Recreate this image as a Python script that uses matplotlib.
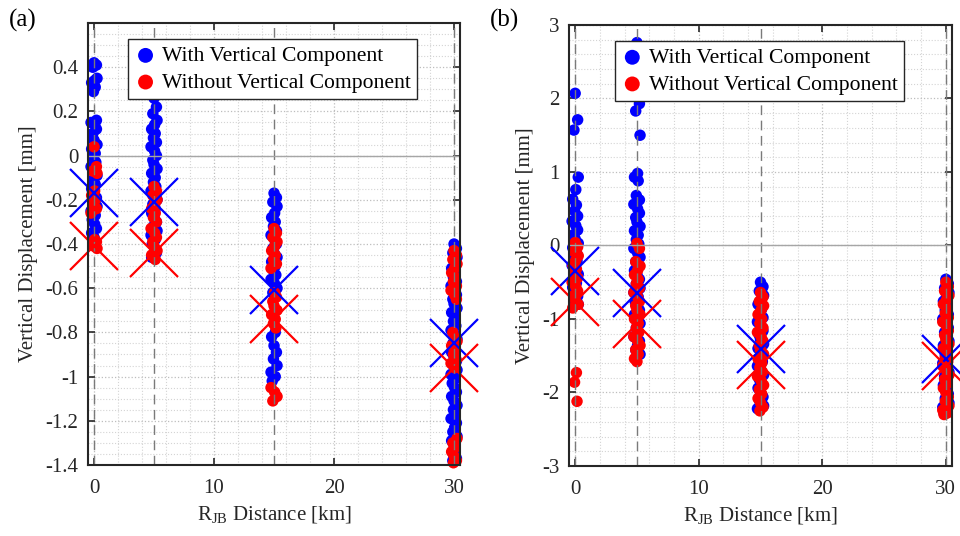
import matplotlib
matplotlib.use('Agg')
import matplotlib.pyplot as plt
import numpy as np

plt.rcParams['font.family'] = ['Liberation Serif', 'DejaVu Serif']
plt.rcParams['mathtext.fontset'] = 'custom'
plt.rcParams['mathtext.rm'] = 'Liberation Serif'
plt.rcParams['font.size'] = 15

distances = [0, 5, 15, 30]

# small spread of the actual R_JB values around each nominal distance [km]
rjb_offsets = [0.0, 0.2, -0.1, 0.25, 0.05, -0.2, 0.1, -0.05, 0.2, -0.25,
               0.05, 0.2, -0.1, 0.0, 0.25, -0.2, 0.1, -0.05, 0.15, -0.25,
               0.05, 0.25, -0.1, 0.1, -0.2, 0.0, 0.2, -0.05, 0.25, -0.25,
               0.1, -0.15, 0.05, 0.2, -0.2, 0.0, 0.25, -0.05, 0.1, -0.25,
               0.2, 0.05, -0.1, 0.25, -0.2, 0.0, 0.1, -0.05, 0.2, -0.1]

# panel (a) vertical displacement values [mm]
a_blue = {
    0: [0.42, 0.41, 0.40, 0.35, 0.34, 0.33, 0.31, 0.29, 0.16, 0.15, 0.14, 0.12, 0.10, 0.07,
        0.05, 0.03, 0.01, -0.01, -0.03, -0.05, -0.07, -0.09, -0.11, -0.13, -0.15, -0.17,
        -0.19, -0.21, -0.23, -0.25, -0.27, -0.29, -0.31, -0.33, -0.35, -0.37],
    5: [0.26, 0.22, 0.19, 0.16, 0.14, 0.12, 0.10, 0.08, 0.06, 0.04, 0.02, 0.00, -0.02, -0.04,
        -0.06, -0.08, -0.10, -0.12, -0.14, -0.16, -0.18, -0.20, -0.22, -0.24, -0.26, -0.28,
        -0.30, -0.32, -0.34, -0.36, -0.38, -0.40, -0.42, -0.44, -0.46],
    15: [-0.17, -0.19, -0.21, -0.23, -0.26, -0.28, -0.30, -0.32, -0.34, -0.36, -0.38, -0.40,
         -0.42, -0.44, -0.46, -0.48, -0.50, -0.52, -0.54, -0.56, -0.58, -0.60, -0.62, -0.80,
         -0.82, -0.86, -0.89, -0.92, -0.95, -0.98, -1.00, -1.02],
    30: [-0.40, -0.42, -0.44, -0.46, -0.49, -0.51, -0.53, -0.55, -0.57, -0.59, -0.61, -0.63,
         -0.65, -0.67, -0.69, -0.71, -0.73, -0.75, -0.77, -0.79, -0.81, -0.83, -0.85, -0.87,
         -0.89, -0.91, -0.93, -0.95, -0.97, -0.99, -1.01, -1.03, -1.05, -1.07, -1.09, -1.11,
         -1.13, -1.15, -1.17, -1.19, -1.21, -1.23, -1.25, -1.27, -1.29, -1.31, -1.33, -1.35,
         -1.37, -1.38],
}
a_red = {
    0: [0.04, -0.05, -0.07, -0.08, -0.16, -0.18, -0.20, -0.22, -0.24, -0.26, -0.38, -0.39,
        -0.40, -0.41, -0.42],
    5: [-0.14, -0.16, -0.18, -0.20, -0.22, -0.24, -0.26, -0.28, -0.30, -0.33, -0.35, -0.37,
        -0.39, -0.41, -0.43, -0.45, -0.47],
    15: [-0.33, -0.35, -0.37, -0.39, -0.41, -0.43, -0.45, -0.47, -0.49, -0.51, -0.62, -0.64,
         -0.66, -0.68, -0.70, -0.72, -0.74, -0.76, -0.78, -1.05, -1.07, -1.09, -1.11],
    30: [-0.43, -0.45, -0.47, -0.49, -0.51, -0.53, -0.55, -0.57, -0.59, -0.61, -0.63, -0.65,
         -0.80, -0.82, -0.84, -0.86, -0.88, -0.90, -0.92, -0.94, -0.96, -1.28, -1.30, -1.32,
         -1.34, -1.36, -1.38, -1.39],
}
a_blue_mean = [-0.17, -0.21, -0.61, -0.85]
a_red_mean = [-0.41, -0.44, -0.74, -0.96]

# panel (b)
b_blue = {
    0: [2.07, 1.71, 1.57, 0.93, 0.76, 0.63, 0.55, 0.47, 0.40, 0.33, 0.27, 0.21, 0.15, 0.09,
        0.03, -0.03, -0.09, -0.15, -0.21, -0.27, -0.33, -0.39, -0.45, -0.51, -0.57, -0.63,
        -0.69, -0.75, -0.80],
    5: [2.76, 1.93, 1.83, 1.50, 0.98, 0.93, 0.88, 0.68, 0.62, 0.56, 0.50, 0.44, 0.38, 0.32,
        0.26, 0.20, 0.14, 0.08, 0.02, -0.04, -0.10, -0.16, -0.22, -0.28, -0.34, -0.40, -0.46,
        -0.52, -0.58, -0.64, -0.70, -0.76, -0.82, -0.88, -0.94, -1.00, -1.06, -1.12, -1.18,
        -1.24, -1.30, -1.36, -1.42, -1.48],
    15: [-0.50, -0.56, -0.62, -0.68, -0.74, -0.80, -0.86, -0.92, -0.98, -1.04, -1.10, -1.16,
         -1.22, -1.28, -1.34, -1.40, -1.46, -1.52, -1.58, -1.64, -1.70, -1.76, -1.82, -1.88,
         -1.94, -2.00, -2.06, -2.12, -2.18, -2.22],
    30: [-0.46, -0.52, -0.58, -0.64, -0.70, -0.76, -0.82, -0.88, -0.94, -1.00, -1.06, -1.12,
         -1.18, -1.24, -1.30, -1.36, -1.42, -1.48, -1.54, -1.60, -1.66, -1.72, -1.78, -1.84,
         -1.90, -1.96, -2.02, -2.08, -2.14, -2.20, -2.25, -2.28],
}
b_red = {
    0: [0.04, -0.02, -0.08, -0.14, -0.20, -0.26, -0.32, -0.38, -0.44, -0.50, -0.56, -0.62,
        -0.68, -0.74, -0.80, -0.85, -1.73, -1.86, -2.12],
    5: [0.03, -0.04, -0.22, -0.28, -0.34, -0.40, -0.46, -0.52, -0.58, -0.64, -0.70, -0.76,
        -0.82, -0.88, -0.94, -1.00, -1.06, -1.12, -1.18, -1.24, -1.30, -1.36, -1.42, -1.48,
        -1.54, -1.58],
    15: [-0.64, -0.70, -0.76, -0.82, -0.88, -0.94, -1.00, -1.06, -1.12, -1.18, -1.24, -1.30,
         -1.36, -1.42, -1.48, -1.54, -1.60, -1.66, -1.72, -1.78, -1.84, -1.90, -1.96, -2.02,
         -2.08, -2.14, -2.20, -2.25],
    30: [-0.50, -0.56, -0.62, -0.68, -0.74, -0.80, -0.86, -0.92, -0.98, -1.04, -1.10, -1.16,
         -1.22, -1.28, -1.34, -1.40, -1.46, -1.52, -1.58, -1.64, -1.70, -1.76, -1.82, -1.88,
         -1.94, -2.00, -2.06, -2.12, -2.18, -2.24, -2.28, -2.30],
}
b_blue_mean = [-0.35, -0.65, -1.41, -1.54]
b_red_mean = [-0.77, -1.07, -1.62, -1.64]

BLUE = (0, 0, 1)
RED = (1, 0, 0)
DARK = '#262626'


def column_x(d, vals):
    return [d + o for o in rjb_offsets[:len(vals)]]


def draw_panel(ax, blue, red, blue_mean, red_mean, ylim, yticks, yminor, tag, leg_x):
    for d in distances:
        ax.scatter(column_x(d, blue[d]), blue[d], s=68, color=BLUE, edgecolors='none',
                   zorder=2, clip_on=False,
                   label='With Vertical Component' if d == 0 else None)
    for d in distances:
        ax.scatter(column_x(d, red[d]), red[d], s=68, color=RED, edgecolors='none',
                   zorder=3, clip_on=False,
                   label='Without Vertical Component' if d == 0 else None)
    for d in distances:
        ax.axvline(d, color='#7a7a7a', ls=(0, (7, 4)), lw=1.0, zorder=4)
    ax.axhline(0, color='#a6a6a6', lw=1.0, zorder=4)
    ax.plot(distances, blue_mean, 'x', color=BLUE, ms=34, mew=1.6, zorder=5, clip_on=False)
    ax.plot(distances, red_mean, 'x', color=RED, ms=34, mew=1.6, zorder=5, clip_on=False)

    ax.set_xlim(-0.5, 30.5)
    ax.set_ylim(*ylim)
    ax.set_xticks([0, 10, 20, 30])
    ax.set_yticks(yticks)
    ax.set_xticks(np.arange(0, 31, 2), minor=True)
    ax.set_yticks(yminor, minor=True)
    ax.set_yticklabels([('%g' % (round(t, 2) + 0.0)) for t in yticks])
    ax.grid(True, which='major', color='#bdbdbd', ls=':', lw=0.9)
    ax.grid(True, which='minor', color='#d4d4d4', ls=':', lw=0.8)
    ax.set_axisbelow(True)
    ax.tick_params(which='major', direction='in', top=True, right=True, length=5, width=1.2,
                   color=DARK, labelcolor=DARK)
    ax.tick_params(axis='y', which='major', pad=7)
    ax.tick_params(axis='x', which='major', pad=10)
    ax.tick_params(which='minor', length=0)
    for s in ax.spines.values():
        s.set_linewidth(1.5)
        s.set_color(DARK)
        s.set_zorder(6)
    ax.set_xlabel(r'R$_{\rm JB}$ Distance [km]', color=DARK, labelpad=5)
    ax.set_ylabel('Vertical Displacement [mm]', color=DARK, labelpad=5)
    leg = ax.legend(loc='upper left', bbox_to_anchor=(leg_x, 0.963), borderaxespad=0,
                    frameon=True, fancybox=False, markerscale=1.3, handletextpad=0.25,
                    borderpad=0.3, labelspacing=0.3, handlelength=1.0, fontsize=15.6,
                    framealpha=1)
    leg.get_frame().set_edgecolor(DARK)
    leg.get_frame().set_linewidth(1.0)
    leg.set_zorder(7)
    ax.figure.text(ax.get_position().x0 - 0.082, 0.962, tag, fontsize=18, ha='left',
                   va='center')


fig = plt.figure(figsize=(9.6, 5.36), dpi=100)
ax1 = fig.add_axes([0.0917, 0.1325, 0.3875, 0.8245])
ax2 = fig.add_axes([0.5927, 0.1306, 0.399, 0.8228])

draw_panel(ax1, a_blue, a_red, a_blue_mean, a_red_mean, (-1.4, 0.6),
           np.arange(-1.4, 0.41, 0.2), np.arange(-1.4, 0.61, 0.05), '(a)', 0.108)
draw_panel(ax2, b_blue, b_red, b_blue_mean, b_red_mean, (-3, 3),
           np.arange(-3, 4, 1), np.arange(-3, 3.01, 0.2), '(b)', 0.12)

fig.savefig('out.png', dpi=100)
